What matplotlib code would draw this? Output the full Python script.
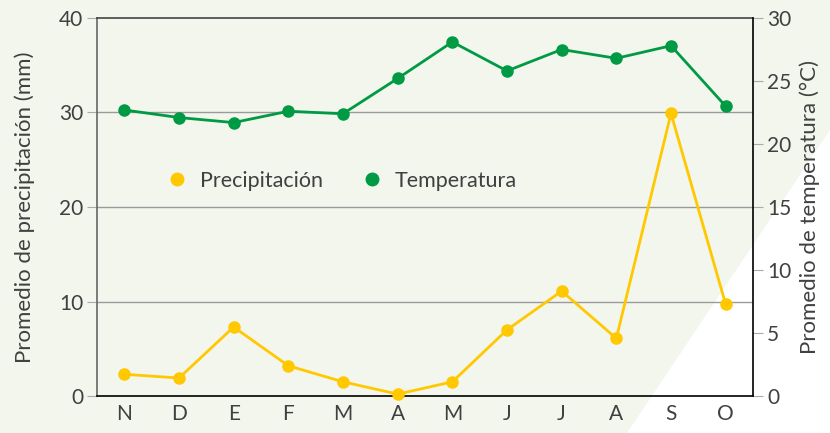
import matplotlib.pyplot as plt
from matplotlib.patches import Polygon
from matplotlib.lines import Line2D

meses = ['N', 'D', 'E', 'F', 'M', 'A', 'M', 'J', 'J', 'A', 'S', 'O']
precipitacion = [2.3, 1.9, 7.3, 3.2, 1.5, 0.2, 1.5, 7.0, 11.1, 6.1, 29.9, 9.7]
temperatura = [22.7, 22.1, 21.7, 22.6, 22.4, 25.2, 28.1, 25.8, 27.5, 26.8, 27.8, 23.0]

AMARILLO = '#ffc800'
VERDE = '#009a44'
FONDO = '#f3f6ed'
TEXTO = '#404040'

plt.rcParams['font.family'] = ['Lato', 'DejaVu Sans']

fig = plt.figure(figsize=(8.3, 4.33), dpi=100)
fig.patch.set_facecolor(FONDO)

# background with the white diagonal corner
bg = fig.add_axes([0, 0, 1, 1], zorder=-10)
bg.set_xlim(0, 830)
bg.set_ylim(433, 0)
bg.axis('off')
bg.add_patch(Polygon([(830, 130), (627, 433), (830, 433)], closed=True,
                     facecolor='white', edgecolor='none'))

ax = fig.add_axes([97 / 830, 1 - 396 / 433, 656 / 830, 378 / 433])
ax.patch.set_alpha(0)
x = [i + 0.5 for i in range(len(meses))]

ax.set_xlim(0, 12)
ax.set_ylim(0, 40)
ax.set_yticks([0, 10, 20, 30, 40])
ax.set_xticks(x)
ax.set_xticklabels(meses)
for v in [10, 20, 30]:
    ax.axhline(v, color='#9a9a9a', lw=1, zorder=1)

ax.plot(x, precipitacion, color=AMARILLO, lw=2, marker='o', ms=8, zorder=3, clip_on=False)

ax2 = ax.twinx()
ax2.patch.set_alpha(0)
ax2.set_ylim(0, 30)
ax2.set_yticks([0, 5, 10, 15, 20, 25, 30])
ax2.plot(x, temperatura, color=VERDE, lw=2, marker='o', ms=8, zorder=3, clip_on=False)

ax.spines['left'].set_color('#666666')
ax.spines['top'].set_color('#444444')
ax.spines['bottom'].set_color('black')
ax.spines['right'].set_visible(False)
ax2.spines['right'].set_color('black')
for s in ['left', 'top', 'bottom']:
    ax2.spines[s].set_visible(False)
for s in ax.spines.values():
    s.set_linewidth(1.2)
ax2.spines['right'].set_linewidth(1.2)

ax.tick_params(axis='y', length=7, color='#aaaaaa', labelsize=15, labelcolor=TEXTO, pad=3)
ax.tick_params(axis='x', length=0, labelsize=15, labelcolor=TEXTO, pad=6)
ax2.tick_params(axis='y', length=7, color='#aaaaaa', labelsize=15, labelcolor=TEXTO, pad=3)

ax.set_ylabel('Promedio de precipitación (mm)', fontsize=16, color=TEXTO, labelpad=17)
ax2.set_ylabel('Promedio de temperatura (°C)', fontsize=16, color=TEXTO, labelpad=6)

handles = [
    Line2D([], [], color=AMARILLO, marker='o', ls='none', ms=9, label='Precipitación'),
    Line2D([], [], color=VERDE, marker='o', ls='none', ms=9, label='Temperatura'),
]
ax.legend(handles=handles, loc='center left', bbox_to_anchor=(0.06, 0.57), ncol=2,
          frameon=False, fontsize=15.5, handletextpad=0.05, columnspacing=1.3,
          labelcolor=TEXTO)

fig.savefig('out.png', dpi=100, facecolor=fig.get_facecolor())
